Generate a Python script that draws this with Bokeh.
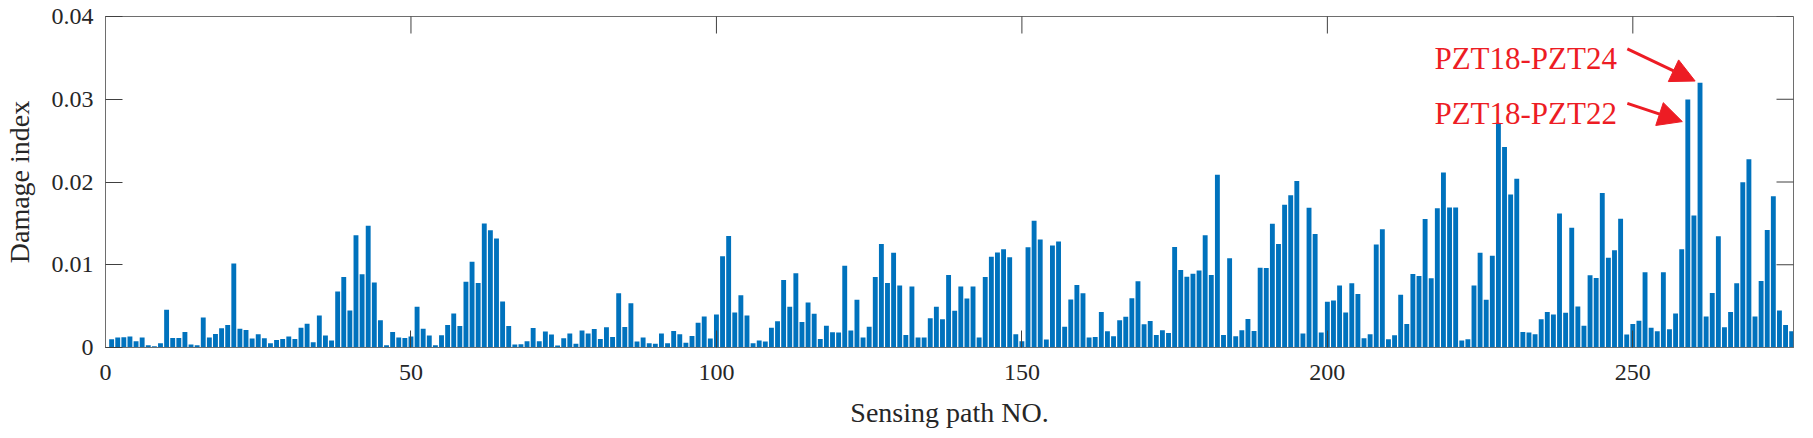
import math
from bokeh.plotting import figure
from bokeh.models import (ColumnDataSource, Range1d, FixedTicker,
                          Arrow, NormalHead, CustomJSTickFormatter)
from bokeh.core.properties import value
from bokeh.embed import file_html
from bokeh.resources import INLINE

# Damage index per sensing path (paths 1..276)
di_001_045 = [0.0010, 0.0012, 0.00124, 0.00132, 0.00076, 0.0012, 0.00028, 0.00016, 0.00052, 0.00456,
              0.00116, 0.00116, 0.00188, 0.00036, 0.00028, 0.00364, 0.0012, 0.00164, 0.00232, 0.00272,
              0.01016, 0.00228, 0.00212, 0.00108, 0.0016, 0.00112, 0.00052, 0.00092, 0.00104, 0.00132,
              0.00104, 0.0024, 0.00288, 0.00064, 0.00388, 0.00144, 0.00084, 0.00676, 0.00852, 0.00448,
              0.01356, 0.00884, 0.01472, 0.00784, 0.00328]
di_046_091 = [0.00028, 0.00188, 0.0012, 0.00116, 0.00132, 0.00492, 0.00228, 0.00144, 0.00028, 0.00148,
              0.00272, 0.00412, 0.0026, 0.00796, 0.01036, 0.0078, 0.015, 0.01416, 0.01316, 0.00556,
              0.0026, 0.00036, 0.0004, 0.00076, 0.00236, 0.00076, 0.00192, 0.00156, 0.00024, 0.00112,
              0.00168, 0.00044, 0.00204, 0.00168, 0.00224, 0.00104, 0.00244, 0.00128, 0.00656, 0.00248,
              0.00536, 0.00072, 0.0012, 0.00052, 0.00044, 0.00168]
di_092_137 = [0.00052, 0.002, 0.0016, 0.00056, 0.0014, 0.003, 0.00376, 0.00108, 0.004,
              0.01104, 0.01348, 0.00424, 0.00632, 0.00388, 0.00052, 0.00084, 0.00072, 0.0024, 0.00316,
              0.00816, 0.00492, 0.00896, 0.00308, 0.00544, 0.00408, 0.00104, 0.00264, 0.00184, 0.0018,
              0.00988, 0.00204, 0.00576, 0.0012, 0.00252, 0.00852, 0.01252, 0.0078, 0.01144, 0.00748,
              0.00152, 0.00736, 0.0012, 0.0012, 0.00352, 0.00492, 0.0034]
di_138_182 = [0.00876, 0.00444, 0.00736, 0.00592, 0.00736, 0.0012, 0.00852, 0.01096, 0.01148, 0.01188,
              0.01092, 0.0016, 0.00076, 0.01212, 0.01532, 0.01304, 0.00096, 0.01232, 0.0128, 0.00252,
              0.0058, 0.00756, 0.00656, 0.0012, 0.00128, 0.00428, 0.00196, 0.00136, 0.00328, 0.00372,
              0.00596, 0.008, 0.0028, 0.0032, 0.00152, 0.00208, 0.00176, 0.01216, 0.00936, 0.00856,
              0.00892, 0.00932, 0.01356, 0.00876, 0.02088]
di_183_228 = [0.00152, 0.0108, 0.00136, 0.00208, 0.00344, 0.002, 0.00964, 0.0096,
              0.01496, 0.01252, 0.01724, 0.0184, 0.02012, 0.00168, 0.01688, 0.01372, 0.0018, 0.00552,
              0.00568, 0.00748, 0.00424, 0.00776, 0.00648, 0.00112, 0.0016, 0.01244, 0.01428, 0.001,
              0.00148, 0.00636, 0.00284, 0.00888, 0.00864, 0.01552, 0.00836, 0.01684, 0.02116, 0.01692,
              0.01692, 0.00084, 0.001, 0.00748, 0.01144, 0.00576, 0.01108, 0.02708]
di_229_276 = [0.02424, 0.01848,
              0.0204, 0.00188, 0.0018, 0.0016, 0.0034, 0.00428, 0.004, 0.0162, 0.0042, 0.01448,
              0.00496, 0.00264, 0.00872, 0.0084, 0.01868, 0.01084, 0.01176, 0.01556, 0.00156, 0.00284,
              0.00324, 0.00908, 0.0024, 0.00196, 0.00908, 0.0022, 0.00412, 0.01188, 0.02996, 0.01596,
              0.032, 0.00376, 0.0066, 0.01344, 0.00244, 0.00428, 0.00776, 0.01996, 0.02276, 0.00376,
              0.00804, 0.0142, 0.01828, 0.00448, 0.00272, 0.00196]

damage = di_001_045 + di_046_091 + di_092_137 + di_138_182 + di_183_228 + di_229_276
paths = list(range(1, len(damage) + 1))

x_ticks = [0, 50, 100, 150, 200, 250]
y_ticks = [0, 0.01, 0.02, 0.03, 0.04]

labels = ["PZT18-PZT24", "PZT18-PZT22"]
label_x = [247.4, 247.4]
label_y = [0.0349, 0.0283]
arrow_start = [(249.1, 0.0361), (249.1, 0.0295)]
arrow_end = [(260.2, 0.0322), (258.1, 0.0273)]

FONT = "Liberation Serif"
TXT = "#262626"
AX = "#6e6e6e"
TICK = "#404040"
BLUE = "#0072BD"
RED = "#ED1C24"

X_END = 276.3
Y_END = 0.04

p = figure(width=1800, height=430, output_backend="svg", toolbar_location=None,
           x_range=Range1d(0, X_END), y_range=Range1d(0, Y_END),
           min_border_left=98, min_border_right=7, min_border_top=16, min_border_bottom=82,
           x_axis_label="Sensing path NO.", y_axis_label="Damage index")
p.grid.visible = False
p.outline_line_color = AX
p.outline_line_width = 1
p.background_fill_color = "white"
p.border_fill_color = "white"

src = ColumnDataSource(data=dict(x=paths, top=damage))
p.vbar(x="x", top="top", width=0.8, bottom=0, source=src,
       fill_color=BLUE, line_color=None)

fmt = CustomJSTickFormatter(code="""
    if (Math.abs(tick) < 1e-12) return "0";
    return tick.toFixed(2);
""")

def style_axis(ax):
    ax.axis_line_color = AX
    ax.axis_line_width = 1
    ax.major_tick_line_color = TICK
    ax.major_tick_line_width = 1
    ax.major_tick_in = 17
    ax.major_tick_out = 0
    ax.minor_tick_line_color = None
    ax.major_label_text_font = FONT
    ax.major_label_text_color = TXT
    ax.major_label_text_font_size = "24px"
    ax.axis_label_text_font = FONT
    ax.axis_label_text_font_style = "normal"
    ax.axis_label_text_color = TXT
    ax.axis_label_text_font_size = "28px"

xa = p.xaxis[0]
xa.ticker = FixedTicker(ticks=x_ticks)
style_axis(xa)
xa.major_label_standoff = 17
xa.axis_label_standoff = 14

ya = p.yaxis[0]
ya.ticker = FixedTicker(ticks=y_ticks)
ya.formatter = fmt
style_axis(ya)
ya.major_label_standoff = 12
ya.axis_label_standoff = 14

# inward ticks on the top and right edges of the box (clipped to the frame)
p.scatter(x=x_ticks, y=[Y_END] * len(x_ticks), marker="dash", angle=math.pi / 2,
          size=34, line_color=TICK, line_width=1)
p.scatter(x=[X_END] * len(y_ticks), y=y_ticks, marker="dash",
          size=34, line_color=TICK, line_width=1)

lab_src = ColumnDataSource(data=dict(x=label_x, y=label_y, text=labels))
p.text(x="x", y="y", text="text", source=lab_src, text_align="right",
       text_baseline="alphabetic", text_color=RED,
       text_font=value(FONT), text_font_size="31px")

for (xs, ys), (xe, ye) in zip(arrow_start, arrow_end):
    p.add_layout(Arrow(end=NormalHead(size=24, fill_color=RED, line_color=RED),
                       x_start=xs, y_start=ys, x_end=xe, y_end=ye,
                       line_color=RED, line_width=3))

open("out.html", "w").write(file_html(p, INLINE))
